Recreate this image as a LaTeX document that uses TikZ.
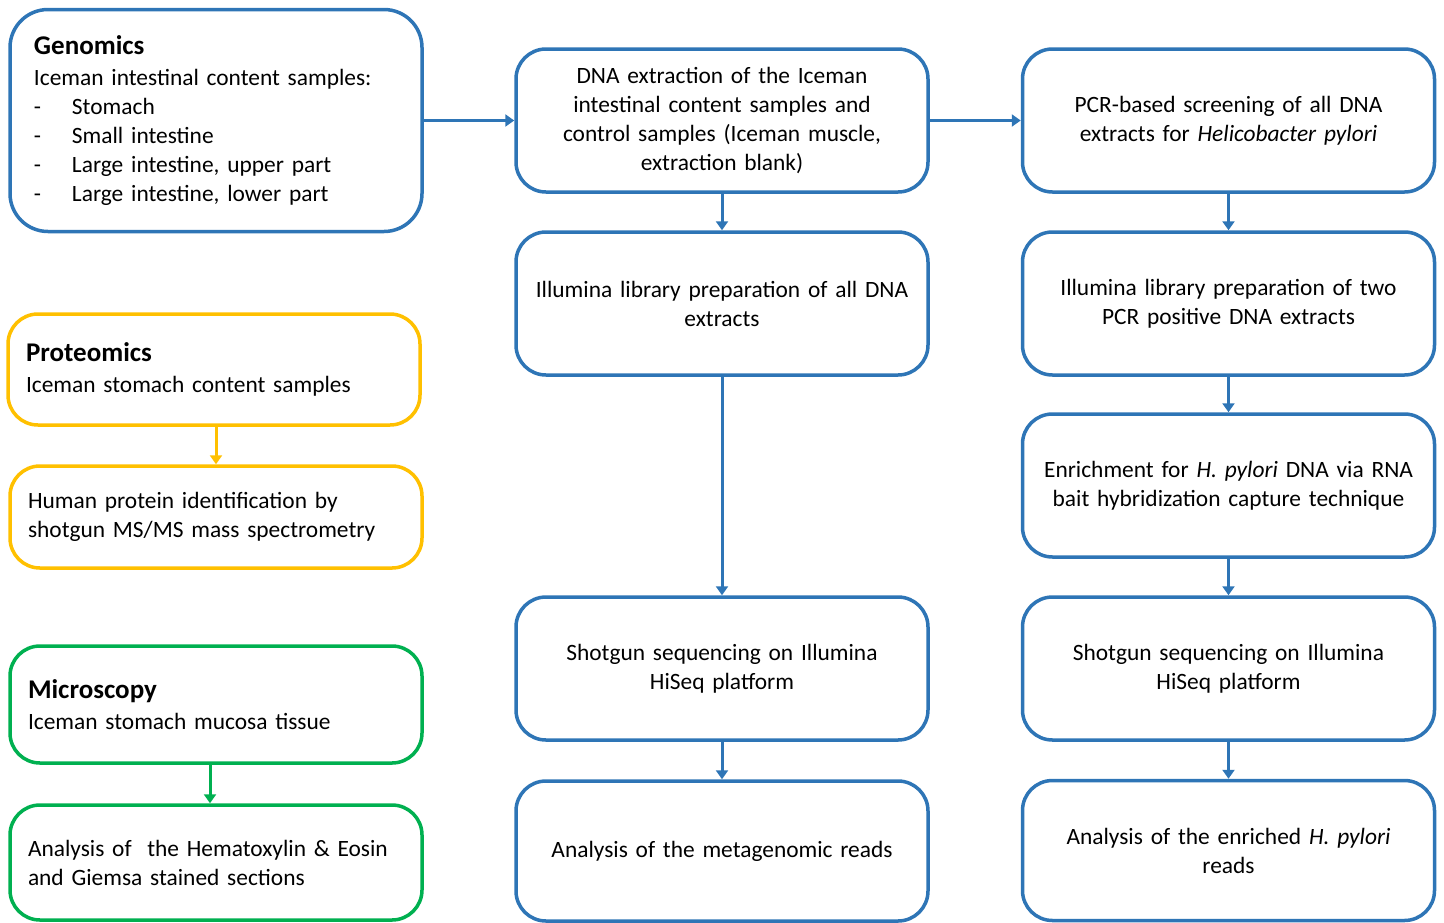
\documentclass[tikz,border=0pt]{standalone}
\usepackage{fontspec}
\setmainfont{Carlito}
\usetikzlibrary{arrows.meta}
\definecolor{flowblue}{HTML}{2E75B6}
\definecolor{protyellow}{HTML}{FFC000}
\definecolor{microgreen}{HTML}{00B050}
\tikzset{
  box/.style={draw=#1, line width=3.5pt, rounded corners=30pt, fill=white,
    minimum width=412pt, font=\fontsize{23.4}{29}\selectfont},
  lbox/.style={box=#1, align=left, inner xsep=18pt, text width=376pt},
  cbox/.style={box=flowblue, align=center, inner xsep=11pt, text width=390pt,
    minimum height=143pt},
  flow/.style={draw=#1, line width=3pt, -{Triangle[width=12pt,length=9pt]}},
}
\newcommand{\boxtitle}[1]{{\bfseries\fontsize{27}{29}\selectfont #1}}
\newcommand{\listdash}{\makebox[38pt][l]{-}}

\begin{document}
\begin{tikzpicture}[x=1pt, y=-1pt]
      \useasboundingbox (0,0) rectangle (1444,922);

      % left column
      \node [lbox=flowblue, inner xsep=24pt, text width=364pt, minimum height=222pt,
             rounded corners=38pt] (gen) at (216, 120.5)
        {\boxtitle{Genomics}\\[2pt]
         Iceman intestinal content samples:\\
         \listdash Stomach\\
         \listdash Small intestine\\
         \listdash Large intestine, upper part\\
         \listdash Large intestine, lower part};

      \node [lbox=protyellow, minimum height=111pt] (prot) at (214, 369.5)
        {\boxtitle{Proteomics}\\[2pt] Iceman stomach content samples};
      \node [lbox=protyellow, minimum height=102pt] (human) at (216, 517)
        {Human protein identification by\\ shotgun MS/MS mass spectrometry};

      \node [lbox=microgreen, minimum height=117pt] (micro) at (216, 704.5)
        {\boxtitle{Microscopy}\\[2pt] Iceman stomach mucosa tissue};
      \node [lbox=microgreen, minimum height=115pt] (he) at (216, 862.5)
        {Analysis of\ \ the Hematoxylin \& Eosin\\ and Giemsa stained sections};

      % middle column
      \node [cbox] (dna) at (722, 120.5)
        {DNA extraction of the Iceman\\ intestinal content samples and\\
         control samples (Iceman muscle,\\ extraction blank)};
      \node [cbox] (illall) at (722, 303.5)
        {Illumina library preparation of all DNA\\ extracts};
      \node [cbox] (shotmid) at (722, 668.5)
        {Shotgun sequencing on Illumina\\ HiSeq platform};
      \node [cbox, minimum height=140pt] (anamid) at (722, 851)
        {Analysis of the metagenomic reads};

      % right column
      \node [cbox] (pcr) at (1228.5, 120.5)
        {PCR-based screening of all DNA\\ extracts for \textit{Helicobacter pylori}};
      \node [cbox] (iltwo) at (1228.5, 303.5)
        {Illumina library preparation of two\\ PCR positive DNA extracts};
      \node [cbox] (enrich) at (1228.5, 485.5)
        {Enrichment for \textit{H. pylori} DNA via RNA\\ bait hybridization capture technique};
      \node [cbox] (shotr) at (1228.5, 668.5)
        {Shotgun sequencing on Illumina\\ HiSeq platform};
      \node [cbox, minimum height=140pt] (anar) at (1228.5, 850.5)
        {Analysis of the enriched \textit{H. pylori}\\ reads};

      % connectors
      \draw [flow=flowblue] (gen.east) -- (dna.west);
      \draw [flow=flowblue] (dna.east) -- (pcr.west);
      \draw [flow=flowblue] (dna) -- (illall);
      \draw [flow=flowblue] (illall) -- (shotmid);
      \draw [flow=flowblue] (shotmid) -- (anamid);
      \draw [flow=flowblue] (pcr) -- (iltwo);
      \draw [flow=flowblue] (iltwo) -- (enrich);
      \draw [flow=flowblue] (enrich) -- (shotr);
      \draw [flow=flowblue] (shotr) -- (anar);
      \draw [flow=protyellow] (human.north |- prot.south) -- (human.north);
      \draw [flow=microgreen] ([xshift=-6pt]micro.south) -- ([xshift=-6pt]he.north);
    \end{tikzpicture}
\end{document}
